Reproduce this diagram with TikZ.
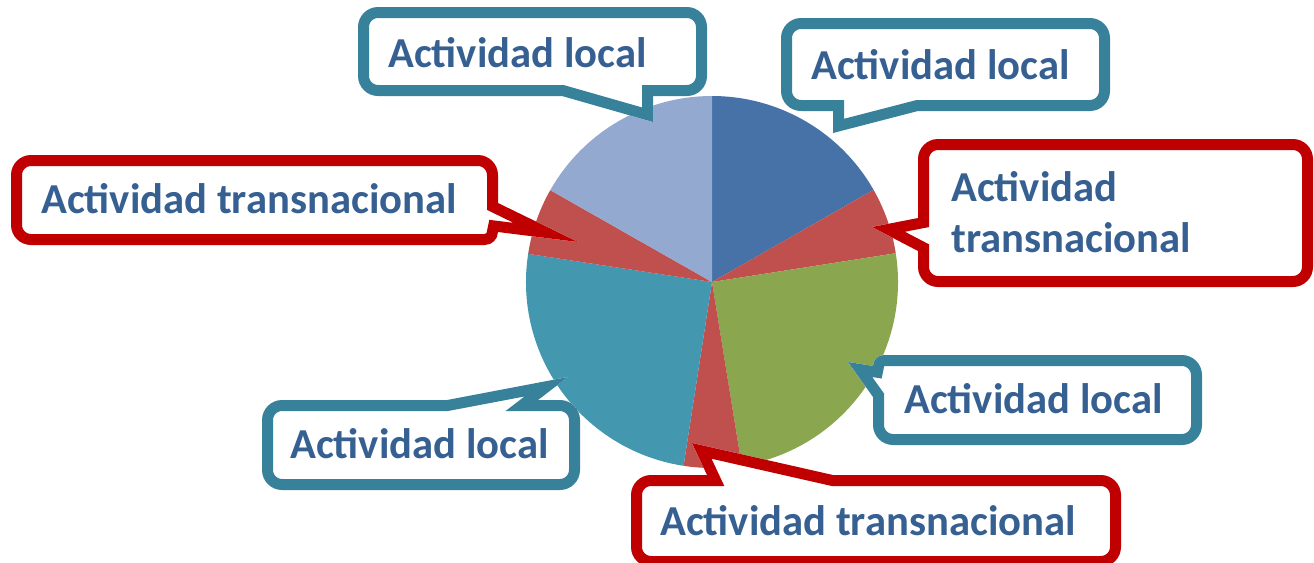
\documentclass[tikz,border=0pt]{standalone}
\usepackage{fontspec}
\setmainfont{Carlito}
\definecolor{tealB}{RGB}{56,129,155}
\definecolor{redB}{RGB}{192,0,0}
\definecolor{txt}{RGB}{54,96,146}
\definecolor{pBlue}{RGB}{70,114,168}
\definecolor{pRed}{RGB}{192,80,77}
\definecolor{pGreen}{RGB}{138,166,78}
\definecolor{pTeal}{RGB}{67,152,176}
\definecolor{pLight}{RGB}{147,169,207}
\begin{document}
\begin{tikzpicture}[x=0.75pt,y=-0.75pt,line join=miter,
  lbl/.style={anchor=base west, inner sep=0pt, text=txt, font=\fontsize{32}{38}\selectfont\bfseries},
  border/.style={line width=16.5pt}]
\useasboundingbox (0,0) rectangle (1314,562);
\fill[white] (0,0) rectangle (1314,562);
% pie
\coordinate (c) at (712,282);
\fill[pBlue]  (c) -- ++(90:139.5pt)    arc[start angle=90,    end angle=29.7,   radius=139.5pt] -- cycle;
\fill[pRed]   (c) -- ++(29.7:139.5pt)  arc[start angle=29.7,  end angle=8.9,    radius=139.5pt] -- cycle;
\fill[pGreen] (c) -- ++(8.9:139.5pt)   arc[start angle=8.9,   end angle=-80.8,  radius=139.5pt] -- cycle;
\fill[pRed]   (c) -- ++(-80.8:139.5pt) arc[start angle=-80.8, end angle=-98.8,  radius=139.5pt] -- cycle;
\fill[pTeal]  (c) -- ++(-98.8:139.5pt) arc[start angle=-98.8, end angle=-188.7, radius=139.5pt] -- cycle;
\fill[pRed]   (c) -- ++(-188.7:139.5pt) arc[start angle=-188.7, end angle=-209.6, radius=139.5pt] -- cycle;
\fill[pLight] (c) -- ++(-209.6:139.5pt) arc[start angle=-209.6, end angle=-270, radius=139.5pt] -- cycle;
% callout outlines (outer edges)
\def\pA{(653,122) -- (653,96) -- (687,96) .. controls (698,96) and (707,87) .. (707,76) -- (707,27) .. controls (707,16) and (698,7) .. (687,7) -- (378,7) .. controls (367,7) and (358,16) .. (358,27) -- (358,76) .. controls (358,87) and (367,96) .. (378,96) -- (562,96) -- cycle}
\def\pB{(833,133) -- (918,111) -- (1090,111) .. controls (1101,111) and (1110,102) .. (1110,91) -- (1110,38) .. controls (1110,27) and (1101,18) .. (1090,18) -- (801,18) .. controls (790,18) and (781,27) .. (781,38) -- (781,91) .. controls (781,102) and (790,111) .. (801,111) -- (833,111) -- cycle}
\def\pC{(872,227) -- (918,251) -- (918,267) .. controls (918,278) and (927,287) .. (938,287) -- (1293,287) .. controls (1304,287) and (1313,278) .. (1313,267) -- (1313,159) .. controls (1313,148) and (1304,139) .. (1293,139) -- (938,139) .. controls (927,139) and (918,148) .. (918,159) -- (918,218) -- cycle}
\def\pD{(578,242) -- (498,232) .. controls (498,239) and (492,245) .. (485,245) -- (31,245) .. controls (20,245) and (11,236) .. (11,225) -- (11,175) .. controls (11,164) and (20,155) .. (31,155) -- (478,155) .. controls (489,155) and (498,164) .. (498,175) -- (498,203) -- cycle}
\def\pE{(568,377) -- (538,400) -- (560,400) .. controls (571,400) and (580,409) .. (580,420) -- (580,470) .. controls (580,481) and (571,490) .. (560,490) -- (282,490) .. controls (271,490) and (262,481) .. (262,470) -- (262,420) .. controls (262,409) and (271,400) .. (282,400) -- (447,400) -- cycle}
\def\pF{(848,362) -- (873,397) -- (873,425) .. controls (873,436) and (882,445) .. (893,445) -- (1182,445) .. controls (1193,445) and (1202,436) .. (1202,425) -- (1202,375) .. controls (1202,364) and (1193,355) .. (1182,355) -- (884,355) .. controls (878,355) and (873,360) .. (873,366) -- cycle}
\def\pG{(692,443) -- (707,475) -- (651,475) .. controls (640,475) and (631,484) .. (631,495) -- (631,547) .. controls (631,558) and (640,567) .. (651,567) -- (1101,567) .. controls (1112,567) and (1121,558) .. (1121,547) -- (1121,495) .. controls (1121,484) and (1112,475) .. (1101,475) -- (833,475) -- cycle}
\begin{scope}\clip \pA; \fill[white] \pA; \draw[border,tealB] \pA; \end{scope}
\begin{scope}\clip \pB; \fill[white] \pB; \draw[border,tealB] \pB; \end{scope}
\begin{scope}\clip \pC; \fill[white] \pC; \draw[border,redB] \pC; \end{scope}
\begin{scope}\clip \pD; \fill[white] \pD; \draw[border,redB] \pD; \end{scope}
\begin{scope}\clip \pE; \fill[white] \pE; \draw[border,tealB] \pE; \end{scope}
\begin{scope}\clip \pF; \fill[white] \pF; \draw[border,tealB] \pF; \end{scope}
\begin{scope}\clip \pG; \fill[white] \pG; \draw[border,redB] \pG; \end{scope}
% labels
\node[lbl] (l1) at (388,67) {Actividad local};
\node[lbl] (l2) at (811,79) {Actividad local};
\node[lbl] (l3a) at (951,201) {Actividad};
\node[lbl] (l3b) at (951,252) {transnacional};
\node[lbl] (l4) at (41,213) {Actividad transnacional};
\node[lbl] (l5) at (290,458) {Actividad local};
\node[lbl] (l6) at (904,413) {Actividad local};
\node[lbl] (l7) at (660,535) {Actividad transnacional};
\end{tikzpicture}
\end{document}
